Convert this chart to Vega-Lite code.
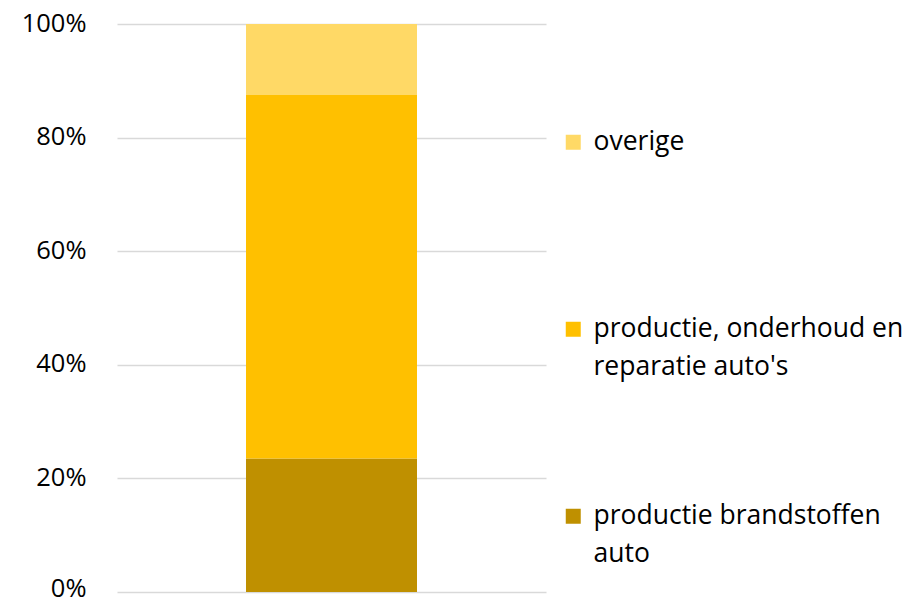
{
  "$schema": "https://vega.github.io/schema/vega-lite/v6.json",
  "width": 429,
  "height": 568,
  "autosize": {"type": "none"},
  "padding": {"left": 117, "top": 24, "right": 370, "bottom": 12},
  "background": "white",
  "config": {"view": {"stroke": null}},
  "data": {
    "values": [
      {"bar": "auto", "categorie": "productie brandstoffen auto", "aandeel": 0.235, "volgorde": 1},
      {"bar": "auto", "categorie": "productie, onderhoud en reparatie auto's", "aandeel": 0.64, "volgorde": 2},
      {"bar": "auto", "categorie": "overige", "aandeel": 0.125, "volgorde": 3}
    ]
  },
  "mark": {"type": "bar", "width": 171},
  "encoding": {
    "x": {"field": "bar", "type": "nominal", "axis": null},
    "y": {
      "field": "aandeel",
      "type": "quantitative",
      "stack": "zero",
      "scale": {"domain": [0, 1], "nice": false},
      "axis": {
        "title": null,
        "format": "%",
        "values": [0, 0.2, 0.4, 0.6, 0.8, 1],
        "domain": false,
        "ticks": false,
        "labelPadding": 31,
        "labelOffset": {"expr": "datum.value == 0 ? -4 : -1"},
        "labelFont": "Open Sans",
        "labelFontSize": 25.5,
        "labelColor": "#000000",
        "gridColor": "#D9D9D9",
        "gridWidth": 1.3
      }
    },
    "order": {"field": "volgorde", "type": "quantitative"},
    "color": {
      "field": "categorie",
      "type": "nominal",
      "scale": {
        "domain": ["overige", "productie, onderhoud en reparatie auto's", "productie brandstoffen auto"],
        "range": ["#FFD966", "#FFC000", "#BF9000"]
      },
      "legend": {
        "title": null,
        "orient": "none",
        "legendX": 443,
        "legendY": 105,
        "symbolType": "square",
        "symbolSize": 225,
        "symbolStrokeWidth": 0,
        "symbolOpacity": 1,
        "labelOffset": 7,
        "labelFont": "Open Sans",
        "labelFontSize": 26.5,
        "labelColor": "#000000",
        "labelLimit": 400,
        "gridAlign": "all",
        "rowPadding": 122,
        "labelExpr": "datum.label == 'productie brandstoffen auto' ? ['productie brandstoffen', 'auto'] : datum.label == \"productie, onderhoud en reparatie auto's\" ? ['productie, onderhoud en', \"reparatie auto's\"] : datum.label",
        "encode": {
          "labels": {"update": {"lineHeight": {"value": 38}}}
        }
      }
    }
  }
}
